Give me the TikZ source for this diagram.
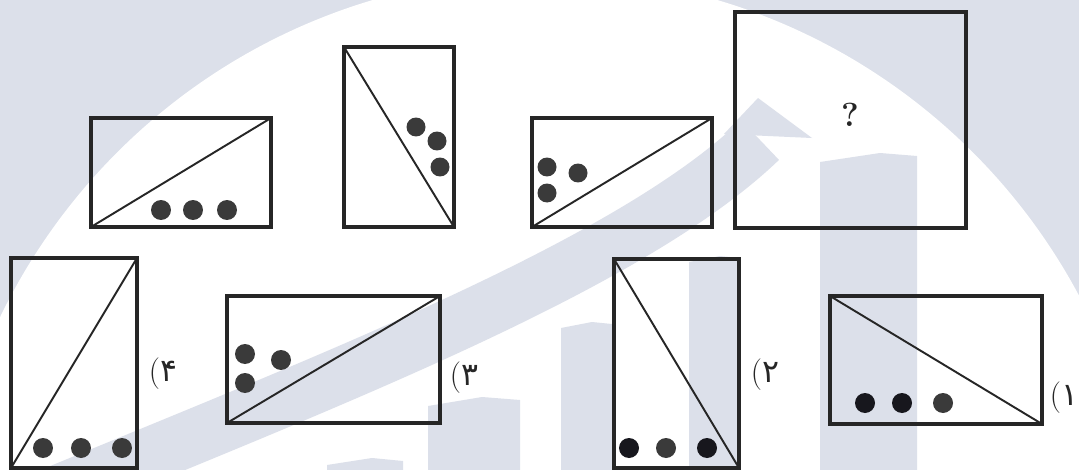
\documentclass[tikz,border=0pt]{standalone}
\usepackage{fontspec}
\usepackage{tikz}
\usetikzlibrary{positioning}
\newfontfamily\persiannum[Script=Arabic]{DejaVu Sans}
\definecolor{pzLine}{HTML}{262626}
\definecolor{pzDot}{HTML}{3A3A3A}
\definecolor{pzInk}{HTML}{17171D}
\definecolor{pzWater}{HTML}{DCE0EA}
\tikzset{
  panel/.style={draw=pzLine, line width=1.8pt},
  cutline/.style={draw=pzLine, line width=1.1pt},
  dotg/.style={fill=pzDot},
  dotk/.style={fill=pzInk},
  water/.style={fill=pzWater},
  optlabel/.style={font=\fontsize{18}{20}\selectfont, inner sep=0pt, text=pzLine},
  qmark/.style={font=\fontsize{19}{22}\selectfont\bfseries, inner sep=0pt, text=pzLine}
}

\begin{document}
\begin{tikzpicture}[x=0.02cm, y=-0.02cm]
  \useasboundingbox (0,0) rectangle (1079,470);

  % faint logo behind the puzzle
  \begin{scope}
    \clip (0,0) rectangle (1079,470);
    \fill[water] (0,0) rectangle (1079,470);
    \fill[white] (545,580) circle[radius=12.1cm];
    \fill[water] (327,470) -- (327,465) -- (372,458) -- (403,461) -- (403,470) -- cycle;
    \fill[water] (428,470) -- (428,406) -- (482,397) -- (520,400) -- (520,470) -- cycle;
    \fill[water] (561,470) -- (561,328) -- (592,322) -- (612,324) -- (612,470) -- cycle;
    \fill[water] (689,470) -- (689,262) -- (720,256) -- (740,258) -- (740,470) -- cycle;
    \fill[water] (820,470) -- (820,162) -- (880,153) -- (917,156) -- (917,470) -- cycle;
    \draw[pzWater, line width=1.1cm] (40,500) .. controls (330,380) and (630,265) .. (760,140);
    \fill[water] (724,134) -- (758,98) -- (812,138) -- cycle;
  \end{scope}

  % question row
  \draw[panel] (91,118) rectangle (271,227);
  \draw[cutline] (91,227) -- (271,118);
  \foreach \x in {161,193,227}
    \fill[dotg] (\x,210) circle[radius=0.2cm];

  \draw[panel] (344,47) rectangle (454,227);
  \draw[cutline] (344,47) -- (454,227);
  \foreach \x/\y in {416/127, 437/141, 440/167}
    \fill[dotg] (\x,\y) circle[radius=0.19cm];

  \draw[panel] (532,118) rectangle (712,227);
  \draw[cutline] (532,227) -- (712,118);
  \foreach \x/\y in {547/167, 578/173, 547/193}
    \fill[dotg] (\x,\y) circle[radius=0.19cm];

  \draw[panel] (735,12) rectangle (966,228);
  \node[qmark] (ask) at (850,115) {?};

  % answer row
  \draw[panel] (11,258) rectangle (137,468);
  \draw[cutline] (11,468) -- (137,258);
  \foreach \x in {43,81,122}
    \fill[dotg] (\x,448) circle[radius=0.2cm];
  \node[optlabel] (opt4) at (163,374) {(\persiannum ۴};

  \draw[panel] (227,296) rectangle (440,423);
  \draw[cutline] (227,423) -- (440,296);
  \foreach \x/\y in {245/354, 281/360, 245/383}
    \fill[dotg] (\x,\y) circle[radius=0.2cm];
  \node[optlabel] (opt3) at (464,378) {(\persiannum ۳};

  \draw[panel] (614,259) rectangle (739,468);
  \draw[cutline] (614,259) -- (739,468);
  \foreach \x/\s in {629/dotk, 666/dotg, 707/dotk}
    \fill[\s] (\x,448) circle[radius=0.2cm];
  \node[optlabel] (opt2) at (765,375) {(\persiannum ۲};

  \draw[panel] (830,296) rectangle (1042,424);
  \draw[cutline] (830,296) -- (1042,424);
  \foreach \x/\s in {865/dotk, 902/dotk, 943/dotg}
    \fill[\s] (\x,403) circle[radius=0.2cm];
  \node[optlabel] (opt1) at (1064,398) {(\persiannum ۱};
\end{tikzpicture}
\end{document}
